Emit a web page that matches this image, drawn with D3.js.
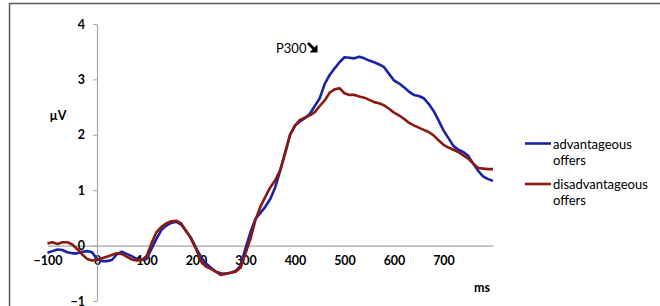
<!DOCTYPE html>
<html>
<head>
<meta charset="utf-8">
<script src="https://cdn.jsdelivr.net/npm/d3@7"></script>
<style>
  body { margin: 0; background: #fff; }
  text { font-family: Lato, "Open Sans", sans-serif; }
</style>
</head>
<body>
<div id="chart"></div>
<script>
// chart size
var chart_width  = 660;
var chart_height = 306;

// Data (ms from stimulus, values in microvolts)
var times = d3.range(-100, 801, 10);
var x_ticks = [-100, 0, 100, 200, 300, 400, 500, 600, 700];
var y_ticks = [-1, 0, 1, 2, 3, 4];
var series_names = ['advantageous offers', 'disadvantageous offers'];

var advantageous = [
	-0.13, -0.10, -0.07, -0.08, -0.12, -0.14, -0.14, -0.11, -0.10, -0.12,
	-0.24, -0.28, -0.28, -0.26, -0.16, -0.11, -0.15, -0.19, -0.24, -0.26,
	-0.24, -0.06,  0.12,  0.28,  0.36,  0.41,  0.43,  0.38,  0.26,  0.14,
	-0.04, -0.20, -0.32, -0.40, -0.47, -0.50, -0.51, -0.49, -0.46, -0.36,
	-0.05,  0.24,  0.48,  0.59,  0.70,  0.84,  1.05,  1.35,  1.68,  2.00,
	 2.17,  2.24,  2.30,  2.38,  2.52,  2.66,  2.92,  3.08,  3.20,  3.31,
	 3.40,  3.39,  3.38,  3.41,  3.38,  3.34,  3.31,  3.27,  3.22,  3.10,
	 2.98,  2.93,  2.86,  2.78,  2.72,  2.70,  2.66,  2.56,  2.43,  2.26,
	 2.08,  1.94,  1.80,  1.73,  1.69,  1.62,  1.48,  1.35,  1.25,  1.20,
	 1.17
];

var disadvantageous = [
	 0.04,  0.06,  0.03,  0.06,  0.06,  0.02, -0.06, -0.16, -0.24, -0.27,
	-0.26, -0.23, -0.20, -0.17, -0.14, -0.15, -0.20, -0.25, -0.27, -0.26,
	-0.20,  0.04,  0.24,  0.34,  0.40,  0.44,  0.45,  0.40,  0.27,  0.12,
	-0.06, -0.28, -0.38, -0.42, -0.47, -0.53, -0.51, -0.49, -0.47, -0.40,
	-0.14,  0.12,  0.46,  0.70,  0.88,  1.05,  1.18,  1.36,  1.66,  2.00,
	 2.16,  2.27,  2.31,  2.35,  2.41,  2.52,  2.62,  2.76,  2.82,  2.84,
	 2.75,  2.72,  2.72,  2.69,  2.67,  2.63,  2.59,  2.57,  2.53,  2.47,
	 2.40,  2.35,  2.29,  2.22,  2.17,  2.13,  2.09,  2.05,  1.99,  1.90,
	 1.82,  1.77,  1.73,  1.69,  1.63,  1.57,  1.48,  1.40,  1.39,  1.38,
	 1.38
];

var colors = ['#1a23a8', '#8a1a10'];

var svg = d3.select('#chart')
	.append('svg')
	.attr('width', chart_width)
	.attr('height', chart_height);

// outer frame
svg.append('rect')
	.attr('x', 9.5).attr('y', 3.5)
	.attr('width', 700).attr('height', 400)
	.attr('fill', 'none')
	.attr('stroke', '#5a5a5a')
	.attr('stroke-width', 1.5);

// Scales
var x = d3.scaleLinear().domain([-100, 800]).range([47.5, 493]);
var y = d3.scaleLinear().domain([-1, 4]).range([301, 24]);

// x axis sits on zero
var x_axis = svg.append('g')
	.attr('transform', 'translate(0,' + y(0) + ')')
	.call(d3.axisBottom(x).tickValues(x_ticks).tickSize(0).tickPadding(11).tickFormat(d3.format('d')));
x_axis.select('.domain').attr('stroke', '#a6a6a6').attr('stroke-width', 1.2);
x_axis.selectAll('text')
	.attr('font-size', 12.5)
	.attr('font-weight', 'bold')
	.attr('fill', '#000')
	.attr('font-family', 'Lato, sans-serif');

// y axis crosses at 0 ms
var y_axis = svg.append('g')
	.attr('transform', 'translate(' + x(0) + ',0)')
	.call(d3.axisLeft(y).tickValues(y_ticks).tickSize(4).tickSizeOuter(0).tickPadding(8).tickFormat(d3.format('d')));
y_axis.select('.domain').attr('stroke', '#a6a6a6').attr('stroke-width', 1.2);
y_axis.selectAll('line').attr('stroke', '#a6a6a6');
y_axis.selectAll('text')
	.attr('font-size', 12.5)
	.attr('font-weight', 'bold')
	.attr('fill', '#000')
	.attr('font-family', 'Lato, sans-serif');

// Lines
var line = d3.line()
	.x(function(d, i){ return x(times[i]); })
	.y(function(d){ return y(d); });

[advantageous, disadvantageous].forEach(function(values, i){
	svg.append('path')
		.datum(values)
		.attr('d', line)
		.attr('fill', 'none')
		.attr('stroke', colors[i])
		.attr('stroke-width', 2.6)
		.attr('stroke-linejoin', 'round');
});

// axis titles
svg.append('text')
	.attr('x', 58).attr('y', 119.5)
	.attr('text-anchor', 'middle')
	.attr('font-size', 12.5).attr('font-weight', 'bold')
	.text('µV');

svg.append('text')
	.attr('x', 482).attr('y', 292)
	.attr('text-anchor', 'middle')
	.attr('font-size', 12.5).attr('font-weight', 'bold')
	.text('ms');

// P300 annotation
svg.append('text')
	.attr('x', 276).attr('y', 52.5)
	.attr('font-size', 13)
	.text('P300');
svg.append('path')
	.attr('d', 'M308,43 L315,50')
	.attr('stroke', '#000')
	.attr('stroke-width', 2.8);
svg.append('path')
	.attr('d', 'M309.5,52.5 L317.5,52.5 L317.5,44.5 Z')
	.attr('fill', '#000');

// Legend
var legend_y = [143.5, 184];
series_names.forEach(function(name, i){
	var g = svg.append('g').attr('transform', 'translate(0,' + legend_y[i] + ')');
	g.append('line')
		.attr('x1', 525).attr('x2', 551)
		.attr('stroke', colors[i])
		.attr('stroke-width', 2.6);
	var words = name.split(' ');
	g.selectAll('text')
		.data(words)
		.enter()
		.append('text')
		.attr('x', 553)
		.attr('y', function(d, j){ return 5 + j * 16; })
		.attr('font-size', 13)
		.text(function(d){ return d; });
});
</script>
</body>
</html>
